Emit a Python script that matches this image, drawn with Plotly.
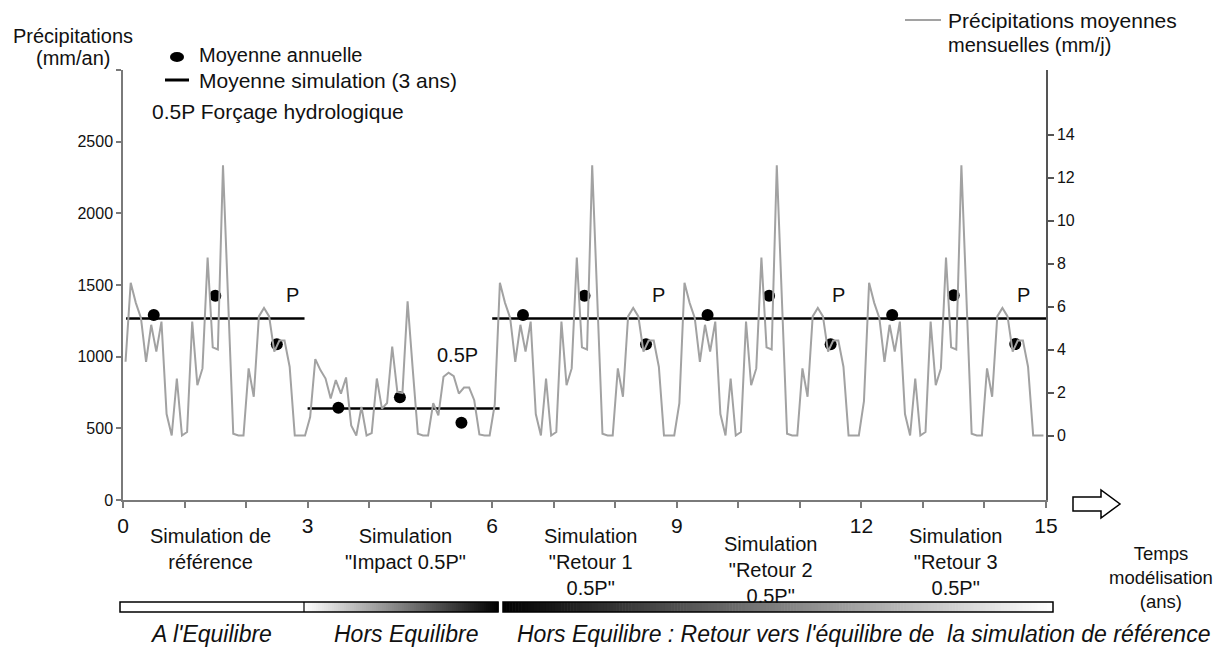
import plotly.graph_objects as go

# ---------------- data ----------------
# monthly mean precipitation (mm/j), 36 months per 3-year simulation
precip_ref = [3.43, 7.1, 6.17, 5.47, 3.43, 5.15, 3.9, 5.3, 1.0, 0.0, 2.65, 0.0,
              0.16, 5.3, 2.34, 3.12, 8.28, 4.1, 4.0, 12.57, 6.3, 0.08, 0.0, 0.0,
              3.12, 1.8, 5.54, 5.93, 5.54, 3.9, 4.42, 4.42, 3.2, 0.0, 0.0, 0.0]
precip_impact = [0.86, 3.55, 3.04, 2.65, 1.72, 2.58, 1.95, 2.7, 0.47, 0.0, 1.33, 0.0,
                 0.11, 2.65, 1.25, 1.51, 4.14, 2.03, 1.98, 6.24, 3.1, 0.08, 0.0, 0.0,
                 1.51, 0.94, 2.73, 2.92, 2.76, 1.95, 2.23, 2.23, 1.64, 0.05, 0.0, 0.0]
precip_retour1 = [1.45, 7.1, 6.17, 5.47, 3.43, 5.15, 3.9, 5.3, 1.0, 0.0, 2.65, 0.0,
                  0.16, 5.3, 2.34, 3.12, 8.28, 4.1, 4.0, 12.57, 6.3, 0.08, 0.0, 0.0,
                  3.12, 1.8, 5.54, 5.93, 5.54, 3.9, 4.42, 4.42, 3.2, 0.0, 0.0, 0.0]
precip_retour2 = [1.5, 7.1, 6.17, 5.47, 3.43, 5.15, 3.9, 5.3, 1.0, 0.0, 2.65, 0.0,
                  0.16, 5.3, 2.34, 3.12, 8.28, 4.1, 4.0, 12.57, 6.3, 0.08, 0.0, 0.0,
                  3.12, 1.8, 5.54, 5.93, 5.54, 3.9, 4.42, 4.42, 3.2, 0.0, 0.0, 0.0]
precip_retour3 = [1.6, 7.1, 6.17, 5.47, 3.43, 5.15, 3.9, 5.3, 1.0, 0.0, 2.65, 0.0,
                  0.16, 5.3, 2.34, 3.12, 8.28, 4.1, 4.0, 12.57, 6.3, 0.08, 0.0, 0.0,
                  3.12, 1.8, 5.54, 5.93, 5.54, 3.9, 4.42, 4.42, 3.2, 0.0, 0.0, 0.0]

# annual means (mm/an), one per model year
annual_means = [1290, 1425, 1086,
                644, 716, 539,
                1290, 1425, 1086,
                1290, 1425, 1086,
                1290, 1428, 1088]

# 3-year simulation means (mm/an)
sim_start = [0.05, 3.0, 6.0]
sim_end = [2.95, 6.12, 15.0]
sim_mean = [1267, 638, 1267]

# forcing labels
forcing_text = ["P", "0.5P", "P", "P", "P"]
forcing_x = [2.76, 5.44, 8.70, 11.63, 14.63]
forcing_y = [1427, 1015, 1427, 1427, 1427]

# axis ticks
x_tickvals = list(range(16))
x_ticktext = ["0", "", "", "3", "", "", "6", "", "", "9", "", "", "12", "", "", "15"]
yl_tickvals = [0, 500, 1000, 1500, 2000, 2500, 3000]
yl_ticktext = ["0", "500", "1000", "1500", "2000", "2500", ""]
yr_tickvals = [0, 2, 4, 6, 8, 10, 12, 14]

sim_labels = ["Simulation de<br>référence", "Simulation<br>\"Impact 0.5P\"",
              "Simulation<br>\"Retour 1<br>0.5P\"", "Simulation<br>\"Retour 2<br>0.5P\"",
              "Simulation<br>\"Retour 3<br>0.5P\""]
state_labels = ["A l'Equilibre", "Hors Equilibre",
                "Hors Equilibre : Retour vers l'équilibre de\u00a0 la simulation de référence"]

# ---------------- layout helpers ----------------
OFF = 8                      # page body margin of the browser
W, H = 1224 - 2 * OFF, 655 - 2 * OFF
L, R, T, B = 123, 1046, 70, 500   # plot area in window pixels
FONT = "Arial, Liberation Sans, sans-serif"
TXT = "#111111"


def px(x):
    return (x - L) / (R - L)


def py(y):
    return (B - y) / (B - T)


monthly = precip_ref + precip_impact + precip_retour1 + precip_retour2 + precip_retour3
month_t = [(i + 0.5) / 12 for i in range(len(monthly))]
year_t = [i + 0.5 for i in range(len(annual_means))]

fig = go.Figure()

fig.add_trace(go.Scatter(x=month_t, y=monthly, mode="lines", yaxis="y2",
                         line=dict(color="#a2a2a2", width=2), hoverinfo="skip"))

seg_x, seg_y = [], []
for s, e, m in zip(sim_start, sim_end, sim_mean):
    seg_x += [s, e, None]
    seg_y += [m, m, None]
fig.add_trace(go.Scatter(x=seg_x, y=seg_y, mode="lines",
                         line=dict(color="black", width=2.5)))

fig.add_trace(go.Scatter(x=year_t, y=annual_means, mode="markers",
                         marker=dict(color="black", size=12, symbol="circle")))

annotations = []
for t, xx, yy in zip(forcing_text, forcing_x, forcing_y):
    annotations.append(dict(x=xx, y=yy, xref="x", yref="y", text=t, showarrow=False,
                            font=dict(size=20, color=TXT, family=FONT)))


def ann(text, x, y, xanchor="center", yanchor="middle", size=20, italic=False):
    annotations.append(dict(x=px(x), y=py(y), xref="paper", yref="paper", text=text,
                            showarrow=False, xanchor=xanchor, yanchor=yanchor,
                            font=dict(size=size, color=TXT, family=FONT,
                                      style="italic" if italic else "normal")))


ann("Précipitations", 73, 36)
ann("(mm/an)", 73, 58)
ann("Moyenne annuelle", 197, 55, xanchor="left")
ann("Moyenne simulation (3 ans)", 197, 80, xanchor="left", size=21)
ann("0.5P Forçage hydrologique", 150, 111, xanchor="left", size=21)
ann("Précipitations moyennes", 946, 20, xanchor="left", size=21)
ann("mensuelles (mm/j)", 946, 45, xanchor="left")

label_pos = [(210, 523), (405, 523), (590, 523), (770, 531), (955, 523)]
for lab, (x, y) in zip(sim_labels, label_pos):
    ann(lab, x, y, yanchor="top")
ann("Temps<br>modélisation<br>(ans)", 1161, 541, yanchor="top", size=18.5)

state_pos = [211, 406, 863]
for lab, x in zip(state_labels, state_pos):
    ann(lab, x, 634, italic=True, size=23)

shapes = []
# legend symbols
shapes.append(dict(type="circle", xref="paper", yref="paper", x0=px(170), x1=px(184),
                   y0=py(62), y1=py(52), fillcolor="black", line=dict(width=0)))
shapes.append(dict(type="line", xref="paper", yref="paper", x0=px(165), x1=px(189),
                   y0=py(80), y1=py(80), line=dict(color="black", width=3)))
shapes.append(dict(type="line", xref="paper", yref="paper", x0=px(905), x1=px(941),
                   y0=py(20), y1=py(20), line=dict(color="#a2a2a2", width=2)))

# arrow
pts = [(1073, 497), (1101, 497), (1101, 490), (1120, 504), (1101, 518), (1101, 511), (1073, 511)]
path = "M " + " L ".join(f"{px(a):.5f},{py(b):.5f}" for a, b in pts) + " Z"
shapes.append(dict(type="path", xref="paper", yref="paper", path=path,
                   fillcolor="white", line=dict(color="black", width=1.5)))

# equilibrium bar
BY0, BY1 = 602, 612


def gradient(x0, x1, c0, c1, n):
    w = (x1 - x0) / n
    for k in range(n):
        f = (k + 0.5) / n
        g = int(round(c0 + (c1 - c0) * f))
        shapes.append(dict(type="rect", xref="paper", yref="paper",
                           x0=px(x0 + k * w), x1=px(x0 + (k + 1) * w + 0.6),
                           y0=py(BY1), y1=py(BY0),
                           fillcolor=f"rgb({g},{g},{g})", line=dict(width=0)))


gradient(304, 498, 255, 0, 97)
gradient(503, 1053, 0, 255, 180)
for x0, x1 in [(120, 498), (503, 1053)]:
    shapes.append(dict(type="rect", xref="paper", yref="paper", x0=px(x0), x1=px(x1),
                       y0=py(BY1), y1=py(BY0), line=dict(color="black", width=1.5)))
shapes.append(dict(type="line", xref="paper", yref="paper", x0=px(304), x1=px(304),
                   y0=py(BY1), y1=py(BY0), line=dict(color="black", width=1.2)))

fig.update_layout(
    width=W, height=H,
    margin=dict(l=L - OFF, r=(W + OFF) - R, t=T - OFF, b=(H + OFF) - B, pad=0),
    paper_bgcolor="white", plot_bgcolor="white",
    showlegend=False,
    font=dict(family=FONT, color=TXT),
    xaxis=dict(range=[0, 15], tickvals=x_tickvals, ticktext=x_ticktext,
               showline=True, linecolor="#7a7a7a", linewidth=1.5,
               ticks="outside", ticklen=6, tickcolor="#7a7a7a", tickwidth=1.5,
               tickfont=dict(size=21, color=TXT, family=FONT),
               showgrid=False, zeroline=False),
    yaxis=dict(range=[0, 3000], tickvals=yl_tickvals, ticktext=yl_ticktext,
               showline=True, linecolor="#7a7a7a", linewidth=1.5,
               ticks="outside", ticklen=5, tickcolor="#7a7a7a", tickwidth=1.5,
               tickfont=dict(size=16, color=TXT, family=FONT),
               showgrid=False, zeroline=False),
    yaxis2=dict(range=[-3, 17], overlaying="y", side="right", tickvals=yr_tickvals,
                showline=True, linecolor="#555555", linewidth=1.5,
                ticks="outside", ticklen=6, tickcolor="#555555", tickwidth=1.5,
                tickfont=dict(size=16, color=TXT, family=FONT),
                showgrid=False, zeroline=False),
    annotations=annotations,
    shapes=shapes,
)

fig.write_html("out.html")
